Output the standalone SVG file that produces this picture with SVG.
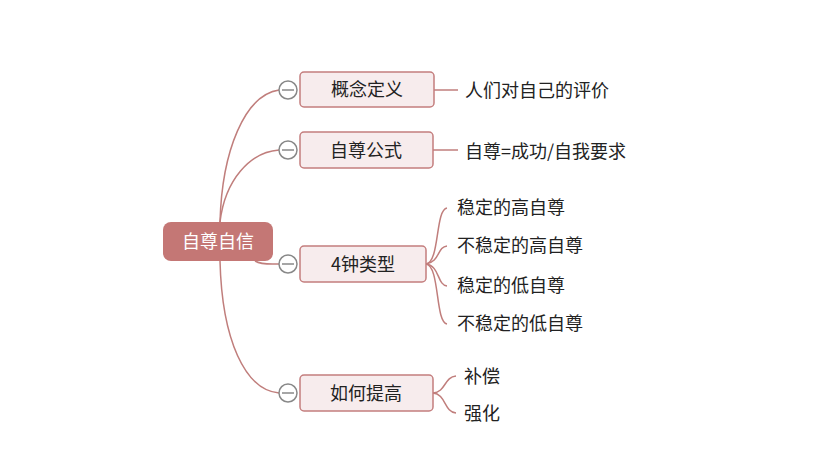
<svg xmlns="http://www.w3.org/2000/svg" width="834" height="476" viewBox="0 0 834 476">
<style>
.n{fill:#f7eced;stroke:#c47e7e;stroke-width:1.5}
.t{font-family:"Noto Sans CJK SC","Liberation Sans",sans-serif;font-size:18px;fill:#222}
.c{fill:none;stroke:#c07e7c;stroke-width:1.5}
.k{fill:#fff;stroke:#888;stroke-width:1.5}
</style>
<rect width="834" height="476" fill="#fff"/>
<g id="connectors">
<path class="c" d="M220,222 C222,150 245,95 279,90"/>
<path class="c" d="M220,222 C225,180 250,152 279,150"/>
<path class="c" d="M255,261 C262,265 270,264 279,264"/>
<path class="c" d="M220,261 C222,340 245,390 279,393"/>
<path class="c" d="M434,90 H458"/>
<path class="c" d="M433,150 H458"/>
<path class="c" d="M426,264 C440,262 435,210 447,208"/>
<path class="c" d="M426,264 C440,262 437,247 447,246"/>
<path class="c" d="M426,264 C440,266 437,285 447,286"/>
<path class="c" d="M426,264 C440,266 435,322 447,324"/>
<path class="c" d="M433,393 C446,392 444,377 456,376"/>
<path class="c" d="M433,393 C446,394 444,412 456,413"/>
</g>
<g id="root"><rect x="163" y="222" width="110" height="39" rx="8" fill="#c47775"/>
<text x="218" y="248" text-anchor="middle" class="t" style="fill:#fff">自尊自信</text></g>
<g id="n1"><circle class="k" cx="288" cy="90" r="9"/><path d="M282,90H294" stroke="#888" stroke-width="1.5"/>
<rect class="n" x="300" y="72" width="134" height="35" rx="4"/><text x="367" y="96" text-anchor="middle" class="t">概念定义</text>
<text x="465" y="97" class="t">人们对自己的评价</text></g>
<g id="n2"><circle class="k" cx="288" cy="150" r="9"/><path d="M282,150H294" stroke="#888" stroke-width="1.5"/>
<rect class="n" x="300" y="132" width="133" height="36" rx="4"/><text x="366" y="157" text-anchor="middle" class="t">自尊公式</text>
<text x="465" y="158" class="t">自尊=成功/自我要求</text></g>
<g id="n3"><circle class="k" cx="288" cy="264" r="9"/><path d="M282,264H294" stroke="#888" stroke-width="1.5"/>
<rect class="n" x="300" y="246" width="126" height="36" rx="4"/><text x="363" y="271" text-anchor="middle" class="t">4钟类型</text>
<text x="457" y="214" class="t">稳定的高自尊</text>
<text x="457" y="252" class="t">不稳定的高自尊</text>
<text x="457" y="292" class="t">稳定的低自尊</text>
<text x="457" y="330" class="t">不稳定的低自尊</text></g>
<g id="n4"><circle class="k" cx="288" cy="393" r="9"/><path d="M282,393H294" stroke="#888" stroke-width="1.5"/>
<rect class="n" x="300" y="375" width="133" height="36" rx="4"/><text x="366" y="400" text-anchor="middle" class="t">如何提高</text>
<text x="464" y="383" class="t">补偿</text>
<text x="464" y="420" class="t">强化</text></g>
</svg>
